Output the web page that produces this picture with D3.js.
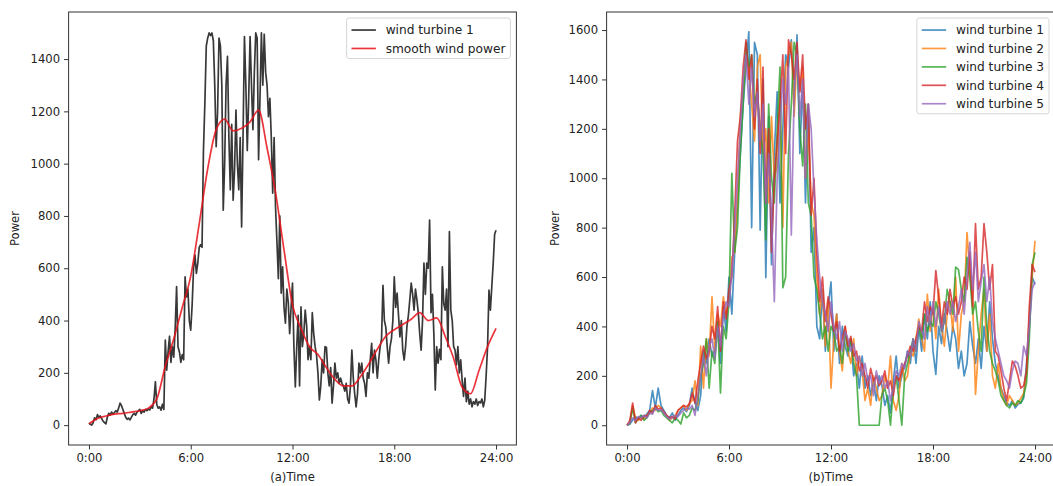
<!DOCTYPE html>
<html><head><meta charset="utf-8">
<script src="https://cdn.jsdelivr.net/npm/d3@7"></script>
<style>body{margin:0;background:#fff;} svg{display:block;font-family:"DejaVu Sans",sans-serif;}</style>
</head><body><svg id="c" width="1053" height="486"></svg>
<script>
// ---------- data ----------
const timeTicks = [0, 6, 12, 18, 24];
const timeTickLabels = ["0:00", "6:00", "12:00", "18:00", "24:00"];
const leftYTicks = [0, 200, 400, 600, 800, 1000, 1200, 1400];
const rightYTicks = [0, 200, 400, 600, 800, 1000, 1200, 1400, 1600];
const leftLegend = ["wind turbine 1", "smooth wind power"];
const rightLegend = ["wind turbine 1", "wind turbine 2", "wind turbine 3", "wind turbine 4", "wind turbine 5"];
const rightColors = ["#1f77b4", "#ff7f0e", "#2ca02c", "#d62728", "#9467bd"];

// (a) wind turbine 1, one value every 5 minutes
const turbine1 = [
 8,3,0,10,28,20,40,30,35,25,15,10,
 5,30,45,38,50,42,48,55,50,65,84,75,
 60,45,30,22,27,20,30,40,45,38,50,55,
 60,45,55,50,60,55,62,58,70,65,100,166,
 78,65,70,57,80,60,325,210,280,340,240,300,
 260,370,530,300,280,240,270,250,567,490,520,400,
 363,460,600,650,580,620,680,690,680,1050,1230,1450,
 1480,1500,1490,1500,1470,1300,1065,1200,1480,1450,1300,822,
 1000,1300,1410,1100,900,1150,860,975,1205,1000,900,1100,
 758,1100,1486,1300,1050,1250,1486,1300,1130,1350,1500,1480,
 1015,1250,1500,1300,1495,1350,1300,1180,1250,1100,887,1100,
 833,700,560,800,505,605,450,390,520,470,350,450,
 543,300,146,300,420,150,452,300,350,440,380,250,
 300,250,430,350,300,268,200,96,150,250,200,300,
 298,200,150,220,84,150,237,180,200,160,180,160,
 150,130,160,100,84,150,287,180,120,70,120,237,
 200,237,180,160,110,200,180,250,313,200,287,250,
 180,250,300,330,535,400,375,300,237,300,330,400,
 567,450,505,420,337,400,287,249,300,380,420,480,
 543,500,440,520,480,430,350,287,400,620,500,620,
 600,784,430,500,350,134,300,237,290,250,605,465,
 440,520,300,740,440,400,300,287,230,300,200,250,
 172,110,180,90,130,80,100,70,90,80,100,75,
 90,85,100,70,95,190,300,516,440,530,620,730,
 745];

// (a) smooth wind power, one value every 30 minutes
const smoothPower = [5,25,35,42,45,50,55,65,100,225,330,450,570,770,980,1130,1170,1125,1135,1160,1205,1060,890,670,460,370,300,270,220,175,150,150,185,235,290,340,365,385,405,430,400,410,340,255,145,120,210,300,370];

// (b) five turbines, one value every 10 minutes
const wt1 = [
 0,5,20,35,25,40, 30,45,60,140,70,150, 80,60,40,30,50,20, 40,60,70,55,80,150,
 90,60,120,300,250,350, 280,300,420,250,480,380, 600,450,700,900,1100,1300,
 1450,1593,800,1550,1500,790, 1400,598,1250,650,1100,1350, 900,1200,1500,1450,1560,1300,
 1580,1100,1400,900,1300,700, 800,400,350,550,300,480, 580,300,450,250,400,320,
 280,350,200,250,150,280, 150,200,120,180,100,200, 160,80,120,50,180,280,
 150,200,240,300,250,350, 250,400,300,450,350,500, 300,206,400,330,450,380,
 300,400,350,230,300,200, 250,420,320,250,350,230, 400,300,500,350,250,200,
 150,120,90,80,100,70, 85,90,110,250,400,600, 570];
const wt2 = [
 0,10,80,30,20,30, 25,40,50,70,60,80, 70,50,40,20,30,40, 60,70,80,60,90,100,
 180,80,320,150,350,280, 520,300,450,400,520,450, 500,680,700,900,1250,1350,
 1500,1450,1300,1150,1450,1500, 1100,1200,900,1250,1000,1050, 1350,800,1450,1500,1550,1250,
 1500,1350,1450,1000,1200,900, 850,600,450,550,320,500, 150,350,450,300,220,400,
 300,250,350,200,280,220, 100,150,80,200,150,100, 120,200,150,280,100,60,
 120,250,180,200,300,280, 350,430,350,300,530,380, 480,350,550,400,320,450,
 500,380,600,300,450,500, 780,620,500,125,300,450, 550,300,450,200,150,250,
 150,100,80,120,100,80, 90,110,130,200,450,600, 747];
const wt3 = [
 0,5,70,10,30,40, 20,30,50,60,70,55, 60,40,30,20,10,30, 20,5,50,30,40,70,
 60,100,200,250,350,150, 300,250,420,130,400,350, 500,1020,700,800,1100,1300,
 1550,1450,1500,1300,1350,1200, 1100,750,1300,1000,900,1200, 1450,557,600,1100,1300,1550,
 1500,1200,1050,1300,900,850, 600,550,450,350,400,300, 400,380,300,320,250,380,
 300,350,250,200,0,0, 0,0,0,0,0,0, 125,150,100,0,150,200,
 100,0,200,250,300,350, 300,400,350,450,380,420, 400,500,450,380,420,550,
 500,450,640,630,550,500, 680,600,450,500,380,300, 600,400,300,250,220,180,
 120,100,80,70,90,80, 100,90,120,170,350,650, 700];
const wt4 = [
 0,20,90,10,30,20, 40,35,60,50,80,65, 70,55,40,30,35,25, 60,70,80,75,85,130,
 90,180,250,320,270,300, 400,350,480,300,500,430, 550,600,850,1150,1250,1450,
 1560,1400,1500,1200,1400,1100, 1450,900,1200,700,1000,1150, 1300,1500,1100,1560,1500,1400,
 1550,1350,1500,1200,1300,850, 1000,700,500,600,420,520, 450,380,420,300,350,400,
 320,360,280,300,220,250, 200,150,230,180,200,160, 180,220,150,180,120,200,
 180,220,250,280,320,300, 350,400,380,500,420,480, 450,626,520,400,500,450,
 550,480,520,450,500,600, 550,700,480,816,550,600, 816,700,550,650,300,280,
 220,150,100,180,260,240, 200,150,160,220,480,650, 620];
const wt5 = [
 0,10,30,20,35,30, 40,30,50,45,70,60, 65,50,35,25,30,40, 35,50,60,70,65,80,
 40,120,200,280,200,320, 350,270,400,320,450,500, 480,620,800,1000,1200,1400,
 1500,1300,1450,1250,1350,1150, 1300,900,1100,850,500,1000, 1200,1400,1300,1450,770,1350,
 1500,1250,1400,1000,1300,1200, 950,750,600,500,450,380, 500,400,350,420,300,380,
 350,300,330,260,280,200, 250,180,200,120,220,170, 200,150,180,100,150,220,
 200,250,230,300,280,350, 300,420,380,350,480,400, 500,400,480,380,420,500,
 450,500,420,480,550,450, 600,740,550,700,500,580, 650,500,600,420,350,300,
 250,200,180,150,220,260, 250,200,320,280,400,550, 580];

// ---------- drawing ----------
const svg = d3.select("#c");
const FS = 11.6, LFS = 12.2;
const axisColor = "#333";

function drawPanel(cfg) {
  const g = svg.append("g");
  const x = d3.scaleLinear().domain([-1.2, 25.2]).range([cfg.left, cfg.right]);
  const y = d3.scaleLinear().domain(cfg.yDomain).range([cfg.bottom, cfg.top]);

  g.append("rect").attr("x", cfg.left).attr("y", cfg.top)
    .attr("width", cfg.right - cfg.left).attr("height", cfg.bottom - cfg.top)
    .attr("fill", "none").attr("stroke", axisColor).attr("stroke-width", 1);

  const xa = g.append("g").attr("transform", `translate(0,${cfg.bottom})`)
    .call(d3.axisBottom(x).tickValues(timeTicks).tickFormat((d, i) => timeTickLabels[i])
      .tickSize(4.5).tickPadding(4).tickSizeOuter(0));
  const ya = g.append("g").attr("transform", `translate(${cfg.left},0)`)
    .call(d3.axisLeft(y).tickValues(cfg.yTicks).tickFormat(d3.format("d"))
      .tickSize(4.5).tickPadding(4).tickSizeOuter(0));
  [xa, ya].forEach(a => {
    a.select(".domain").remove();
    a.selectAll("line").attr("stroke", axisColor);
    a.selectAll("text").attr("fill", "#222").style("font-size", FS + "px").style("font-family", "DejaVu Sans");
  });

  g.append("text").attr("x", (cfg.left + Math.min(cfg.right, 1055)) / 2).attr("y", 481)
    .attr("text-anchor", "middle").attr("fill", "#222").style("font-size", FS + "px").text(cfg.xLabel);
  g.append("text").attr("transform", `translate(${cfg.yLabelX},${(cfg.top + cfg.bottom) / 2}) rotate(-90)`)
    .attr("text-anchor", "middle").attr("fill", "#222").style("font-size", FS + "px").text("Power");

  const clipId = "clip" + cfg.id;
  svg.append("clipPath").attr("id", clipId).append("rect")
    .attr("x", cfg.left).attr("y", cfg.top).attr("width", cfg.right - cfg.left).attr("height", cfg.bottom - cfg.top);
  const lg = g.append("g").attr("clip-path", `url(#${clipId})`);
  cfg.series.forEach(s => {
    const line = d3.line().x((d, i) => x(i * s.step)).y(d => y(d)).curve(s.curve || d3.curveLinear);
    lg.append("path").datum(s.values).attr("d", line)
      .attr("fill", "none").attr("stroke", s.color).attr("stroke-width", 1.7)
      .attr("stroke-opacity", s.opacity).attr("stroke-linejoin", "round");
  });

  const leg = g.append("g");
  const texts = cfg.series.map((s, i) => leg.append("text").attr("fill", "#222")
    .style("font-size", LFS + "px").text(s.name));
  const tw = d3.max(texts, t => t.node().getComputedTextLength());
  const pitch = LFS * 1.51;
  const h = LFS * (0.8 + 1.01 * cfg.series.length + 0.5 * (cfg.series.length - 1));
  const w = LFS * 3.6 + tw;
  const lx = cfg.legendRight - w, ly = cfg.top + 6;
  leg.insert("rect", "text").attr("x", lx).attr("y", ly).attr("width", w).attr("height", h)
    .attr("rx", 2.5).attr("fill", "#fff").attr("fill-opacity", 0.85).attr("stroke", "#d6d6d6").attr("stroke-width", 1);
  cfg.series.forEach((s, i) => {
    const cy = ly + LFS * 0.4 + LFS * 0.505 + i * pitch + 1;
    leg.append("line").attr("x1", lx + LFS * 0.4).attr("x2", lx + LFS * 2.4).attr("y1", cy).attr("y2", cy)
      .attr("stroke", s.color).attr("stroke-width", 1.7).attr("stroke-opacity", s.opacity);
    texts[i].attr("x", lx + LFS * 3.2).attr("y", cy).attr("dy", "0.35em");
  });
}

drawPanel({
  id: "a", left: 68.6, right: 516.4, top: 12, bottom: 445,
  yDomain: [-76, 1580], yTicks: leftYTicks, xLabel: "(a)Time", yLabelX: 19,
  legendRight: 510.4,
  series: [
    { name: leftLegend[0], values: turbine1, step: 5 / 60, color: "#000", opacity: 0.78 },
    { name: leftLegend[1], values: smoothPower, step: 0.5, color: "#e8101a", opacity: 0.85, curve: d3.curveMonotoneX }
  ]
});

drawPanel({
  id: "b", left: 606.6, right: 1055.4, top: 12, bottom: 445,
  yDomain: [-80, 1673], yTicks: rightYTicks, xLabel: "(b)Time", yLabelX: 559,
  legendRight: 1049,
  series: [wt1, wt2, wt3, wt4, wt5].map((v, i) => ({
    name: rightLegend[i], values: v, step: 10 / 60, color: rightColors[i], opacity: 0.8
  }))
});
</script>
</body></html>
